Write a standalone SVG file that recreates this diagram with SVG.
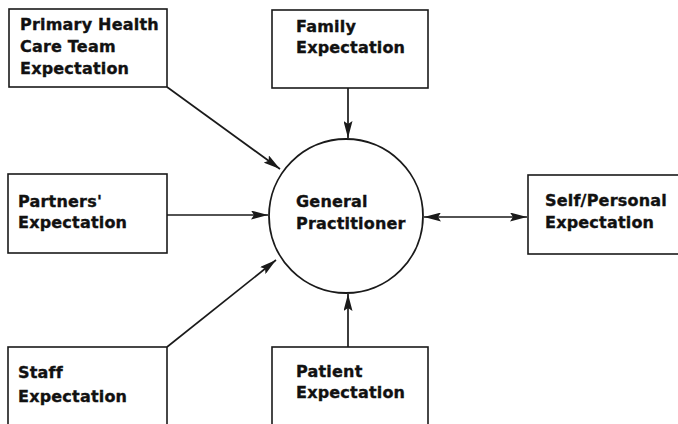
<svg xmlns="http://www.w3.org/2000/svg" width="678" height="424" viewBox="0 0 678 424">
  <style>
    .box { fill: #fff; stroke: #1a1a1a; stroke-width: 1.6; }
    .hub { fill: #fff; stroke: #1a1a1a; stroke-width: 1.8; }
    .lbl { font-family: "DejaVu Sans", "Liberation Sans", Arial, sans-serif; font-weight: bold; font-size: 16px; letter-spacing: 0.2px; fill: #111; stroke: #111; stroke-width: 0.35; }
    .link { stroke: #1a1a1a; stroke-width: 1.7; fill: none; }
  </style>
  <defs>
    <marker id="head" viewBox="0 0 17 9" refX="17" refY="4.5" markerWidth="17" markerHeight="9" markerUnits="userSpaceOnUse" orient="auto-start-reverse">
      <path d="M0,0 L17,4.5 L0,9 L3,4.5 Z" fill="#1a1a1a"/>
    </marker>
  </defs>
  <rect width="678" height="424" fill="#fff"/>

  <g id="connectors">
    <line class="link" x1="167" y1="87" x2="280" y2="169" marker-end="url(#head)"/>
    <line class="link" x1="348" y1="88" x2="348" y2="138" marker-end="url(#head)"/>
    <line class="link" x1="167" y1="215" x2="268" y2="215" marker-end="url(#head)"/>
    <line class="link" x1="424" y1="217" x2="527" y2="217" marker-start="url(#head)" marker-end="url(#head)"/>
    <line class="link" x1="167" y1="347" x2="276" y2="260" marker-end="url(#head)"/>
    <line class="link" x1="348" y1="347" x2="348" y2="294" marker-end="url(#head)"/>
  </g>

  <g id="general-practitioner">
    <circle class="hub" cx="346" cy="216" r="77"/>
    <text class="lbl" x="296" y="207">General</text>
    <text class="lbl" x="296" y="229">Practitioner</text>
  </g>

  <g id="primary-health-care-team">
    <rect class="box" x="9" y="9" width="158" height="78"/>
    <text class="lbl" x="20" y="30">Primary Health</text>
    <text class="lbl" x="20" y="52">Care Team</text>
    <text class="lbl" x="20" y="74">Expectation</text>
  </g>

  <g id="family">
    <rect class="box" x="272" y="10" width="156" height="78"/>
    <text class="lbl" x="296" y="32">Family</text>
    <text class="lbl" x="296" y="53">Expectation</text>
  </g>

  <g id="partners">
    <rect class="box" x="8" y="174" width="159" height="79"/>
    <text class="lbl" x="18" y="207">Partners'</text>
    <text class="lbl" x="18" y="228">Expectation</text>
  </g>

  <g id="self-personal">
    <rect class="box" x="528" y="175" width="170" height="79"/>
    <text class="lbl" x="545" y="206">Self/Personal</text>
    <text class="lbl" x="545" y="228">Expectation</text>
  </g>

  <g id="staff">
    <rect class="box" x="8" y="347" width="159" height="90"/>
    <text class="lbl" x="18" y="378">Staff</text>
    <text class="lbl" x="18" y="402">Expectation</text>
  </g>

  <g id="patient">
    <rect class="box" x="272" y="347" width="156" height="90"/>
    <text class="lbl" x="296" y="377">Patient</text>
    <text class="lbl" x="296" y="398">Expectation</text>
  </g>
</svg>
